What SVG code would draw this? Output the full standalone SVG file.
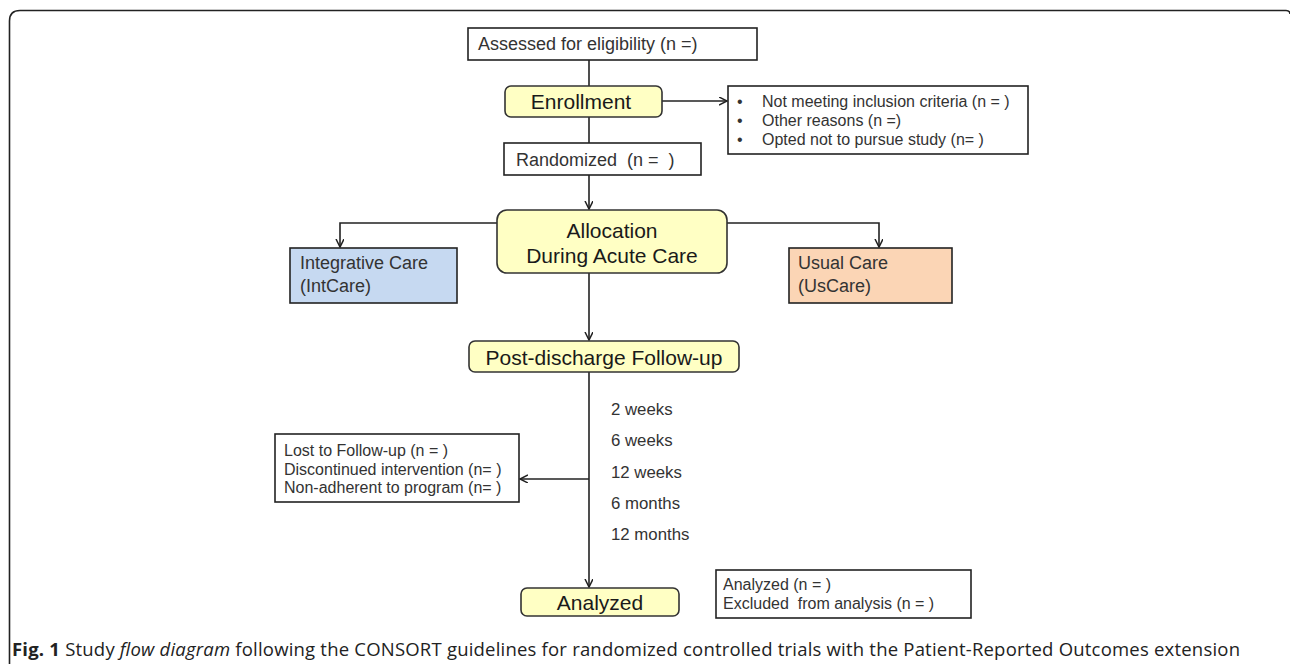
<svg xmlns="http://www.w3.org/2000/svg" width="1290" height="664" viewBox="0 0 1290 664">
<style>
.bg{fill:#ffffff}
.frame{fill:none;stroke:#222;stroke-width:1.6}
.box{fill:#ffffff;stroke:#222;stroke-width:1.6}
.ybox{fill:#ffffc4;stroke:#333;stroke-width:1.6}
.blue{fill:#c6d9f1;stroke:#222;stroke-width:1.6}
.peach{fill:#fbd5b5;stroke:#222;stroke-width:1.6}
.line{fill:none;stroke:#222;stroke-width:1.6}
text{font-family:"Liberation Sans",Arial,sans-serif;fill:#333}
.t18{font-size:18px}
.t16{font-size:16px}
.t17{font-size:16.8px}
.big{font-size:21px;fill:#1a1a1a}
.cap{font-family:"Open Sans","Noto Sans",sans-serif;font-size:18.5px;fill:#222}
</style>
<defs>
<marker id="arr" markerWidth="10" markerHeight="10" refX="8" refY="4" orient="auto" markerUnits="userSpaceOnUse">
<path d="M0,0 L8,4 L0,8" fill="none" stroke="#222" stroke-width="1.5"/>
</marker>
</defs>
<rect class="bg" x="0" y="0" width="1290" height="664"/>
<path class="frame" d="M9.5,664 V21 Q9.5,10.5 20,10.5 H1286 Q1290,10.5 1290,14"/>

<g id="connectors">
<path class="line" d="M589,60 V86"/>
<path class="line" d="M589,117 V143"/>
<path class="line" d="M662,101 H727" marker-end="url(#arr)"/>
<path class="line" d="M589,175 V209" marker-end="url(#arr)"/>
<path class="line" d="M497,223 H340 V247" marker-end="url(#arr)"/>
<path class="line" d="M727,223 H879 V247" marker-end="url(#arr)"/>
<path class="line" d="M589,273 V340" marker-end="url(#arr)"/>
<path class="line" d="M589,372 V587" marker-end="url(#arr)"/>
<path class="line" d="M589,479 H520" marker-end="url(#arr)"/>
</g>

<g id="assessed">
<rect class="box" x="468" y="28" width="289" height="32"/>
<text class="t18" x="478" y="49.5">Assessed for eligibility (n =)</text>
</g>

<g id="enrollment">
<rect class="ybox" x="505" y="86" width="157" height="31" rx="6"/>
<text class="big" x="581" y="109" text-anchor="middle">Enrollment</text>
</g>

<g id="excluded">
<rect class="box" x="728" y="86" width="300" height="68"/>
<text class="t16" x="737" y="106.5">•</text>
<text class="t16" x="737" y="125.5">•</text>
<text class="t16" x="737" y="144.5">•</text>
<text class="t16" x="762" y="106.5">Not meeting inclusion criteria (n = )</text>
<text class="t16" x="762" y="125.5">Other reasons (n =)</text>
<text class="t16" x="762" y="144.5">Opted not to pursue study (n= )</text>
</g>

<g id="randomized">
<rect class="box" x="504" y="143" width="197" height="32"/>
<text class="t18" x="516" y="165.5" xml:space="preserve">Randomized  (n =  )</text>
</g>

<g id="allocation">
<rect class="ybox" x="497" y="210" width="230" height="63" rx="10"/>
<text class="big" x="612" y="237.5" text-anchor="middle">Allocation</text>
<text class="big" x="612" y="262.5" text-anchor="middle">During Acute Care</text>
</g>

<g id="intcare">
<rect class="blue" x="290" y="248" width="167" height="55"/>
<text class="t18" x="300" y="268.5">Integrative Care</text>
<text class="t18" x="300" y="291.5">(IntCare)</text>
</g>

<g id="uscare">
<rect class="peach" x="789" y="248" width="163" height="55"/>
<text class="t18" x="798" y="268.5">Usual Care</text>
<text class="t18" x="798" y="291.5">(UsCare)</text>
</g>

<g id="followup">
<rect class="ybox" x="469" y="341" width="270" height="31" rx="6"/>
<text class="big" x="604" y="364.5" text-anchor="middle">Post-discharge Follow-up</text>
</g>

<g id="timepoints">
<text class="t17" x="611" y="415">2 weeks</text>
<text class="t17" x="611" y="446">6 weeks</text>
<text class="t17" x="611" y="478">12 weeks</text>
<text class="t17" x="611" y="509">6 months</text>
<text class="t17" x="611" y="540">12 months</text>
</g>

<g id="lost">
<rect class="box" x="275" y="434" width="244" height="68"/>
<text class="t16" x="284" y="456">Lost to Follow-up (n = )</text>
<text class="t16" x="284" y="474.5">Discontinued intervention (n= )</text>
<text class="t16" x="284" y="493">Non-adherent to program (n= )</text>
</g>

<g id="analyzed">
<rect class="ybox" x="521" y="588" width="158" height="28" rx="6"/>
<text class="big" x="600" y="609.5" text-anchor="middle">Analyzed</text>
</g>

<g id="analysis-counts">
<rect class="box" x="716" y="570" width="255" height="48"/>
<text class="t16" x="723" y="590">Analyzed (n = )</text>
<text class="t16" x="723" y="609" xml:space="preserve">Excluded  from analysis (n = )</text>
</g>

<text class="cap" x="12" y="656" textLength="1228" lengthAdjust="spacing"><tspan font-weight="bold">Fig. 1</tspan> Study <tspan font-style="italic">flow diagram</tspan> following the CONSORT guidelines for randomized controlled trials with the Patient-Reported Outcomes extension</text>
</svg>
